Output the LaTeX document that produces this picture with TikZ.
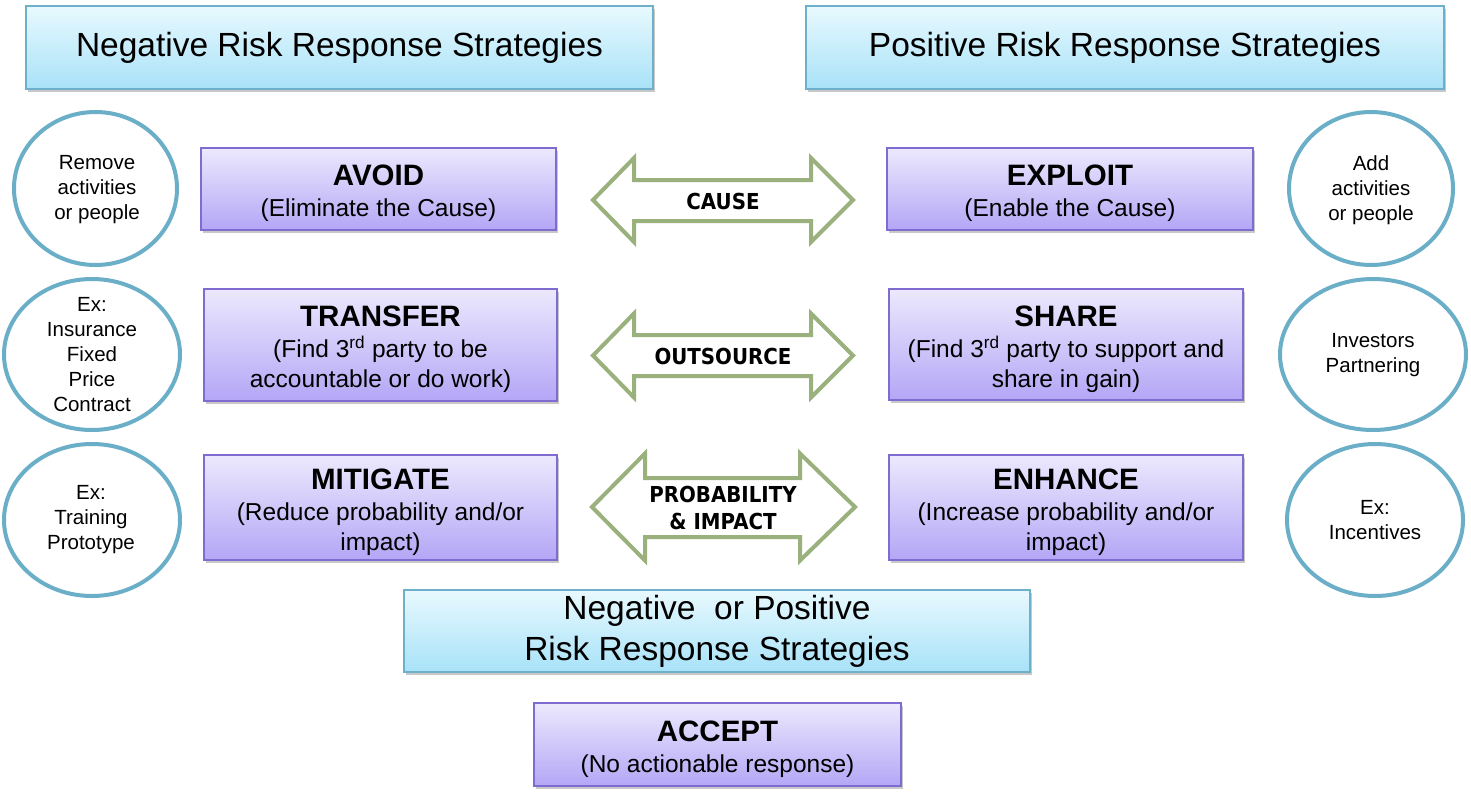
\documentclass[tikz,border=0pt]{standalone}
\usepackage{fontspec}
\setmainfont{Liberation Sans}
\newfontfamily\arrowfont[FakeStretch=0.9]{DejaVu Sans}
\usetikzlibrary{shapes.geometric,shadows}
\definecolor{purpB}{RGB}{128,108,208}
\definecolor{purpT}{RGB}{236,233,253}
\definecolor{purpBt}{RGB}{180,166,246}
\definecolor{cyanB}{RGB}{110,176,202}
\definecolor{cyanT}{RGB}{232,249,254}
\definecolor{cyanBt}{RGB}{168,226,248}
\definecolor{ellB}{RGB}{107,174,200}
\definecolor{arrG}{RGB}{155,177,125}
\newcommand\boxtitle{\fontsize{29.5}{33}\selectfont\bfseries\rule{0pt}{30pt}}
\begin{document}
\begin{tikzpicture}[x=1pt,y=-1pt,
  shad/.style={drop shadow={shadow xshift=1.5pt,shadow yshift=-3pt,opacity=0.3,fill=black!70}},
  hdr/.style={draw=cyanB,line width=2pt,top color=cyanT,bottom color=cyanBt,shad,
    inner sep=0pt,align=center,font=\fontsize{33.5}{41}\selectfont},
  pbox/.style={draw=purpB,line width=2pt,top color=purpT,bottom color=purpBt,shad,
    inner sep=0pt,align=center,font=\fontsize{24.5}{30}\selectfont},
  ell/.style={draw=ellB,line width=4pt,ellipse,inner sep=0pt},
  etext/.style={align=center,font=\fontsize{20.5}{25}\selectfont,inner sep=0pt},
  dbl/.style={draw=arrG,line width=4pt,fill=white,line join=miter},
  alabel/.style={align=center,font=\fontsize{22}{27}\selectfont\arrowfont\bfseries,inner sep=0pt}
]
\useasboundingbox (0,0) rectangle (1471,798);
\fill[white] (0,0) rectangle (1471,798);

% headers
\node[hdr,minimum width=627pt,minimum height=83pt] (hneg) at (339.5,47.5) {Negative Risk Response Strategies};
\node[hdr,minimum width=638pt,minimum height=83pt] (hpos) at (1125,47.5) {Positive Risk Response Strategies};
\node[hdr,minimum width=626pt,minimum height=82pt] (hboth) at (717,631) {Negative\ \ or Positive\\Risk Response Strategies};

% purple boxes
\node[pbox,minimum width=355pt,minimum height=82pt] (avoid) at (378.5,189) {{\boxtitle AVOID}\\[1pt](Eliminate the Cause)};
\node[pbox,minimum width=366pt,minimum height=82pt] (exploit) at (1070,189) {{\boxtitle EXPLOIT}\\[1pt](Enable the Cause)};
\node[pbox,minimum width=353pt,minimum height=112pt] (transfer) at (380.5,345) {{\boxtitle TRANSFER}\\[1pt](Find 3\textsuperscript{rd} party to be\\accountable or do work)};
\node[pbox,minimum width=354pt,minimum height=111pt] (share) at (1066,344.5) {{\boxtitle SHARE}\\[1pt](Find 3\textsuperscript{rd} party to support and\\share in gain)};
\node[pbox,minimum width=353pt,minimum height=105pt] (mitigate) at (380.5,507.5) {{\boxtitle MITIGATE}\\[1pt](Reduce probability and/or\\impact)};
\node[pbox,minimum width=354pt,minimum height=105pt] (enhance) at (1066,507.5) {{\boxtitle ENHANCE}\\[1pt](Increase probability and/or\\impact)};
\node[pbox,minimum width=367pt,minimum height=83pt] (accept) at (717.5,744.5) {{\boxtitle ACCEPT}\\[1pt](No actionable response)};

% ellipses
\node[ell,minimum width=163pt,minimum height=153pt] (e1) at (95.5,188.5) {};
\node[etext] (t1) at (97,190) {Remove\\activities\\or people};
\node[ell,minimum width=176pt,minimum height=151pt] (e2) at (92,354.5) {};
\node[etext] (t2) at (92,355) {Ex:\\Insurance\\Fixed\\Price\\Contract};
\node[ell,minimum width=176pt,minimum height=152pt] (e3) at (92,520) {};
\node[etext] (t3) at (91,520) {Ex:\\Training\\Prototype};
\node[ell,minimum width=164pt,minimum height=153pt] (e4) at (1371,188.5) {};
\node[etext] (t4) at (1371,190) {Add\\activities\\or people};
\node[ell,minimum width=186pt,minimum height=151pt] (e5) at (1373,354.5) {};
\node[etext] (t5) at (1373,355) {Investors\\Partnering};
\node[ell,minimum width=176pt,minimum height=152pt] (e6) at (1375,520) {};
\node[etext] (t6) at (1375,520.5) {Ex:\\Incentives};

% double arrows
\draw[dbl] (593,200) -- (634,158) -- (634,180) -- (811,180) -- (811,158) -- (853,200)
  -- (811,242) -- (811,221) -- (634,221) -- (634,242) -- cycle;
\node[alabel] (a1) at (723,201) {CAUSE};
\draw[dbl] (593,355.5) -- (634,313.5) -- (634,335) -- (811,335) -- (811,313.5) -- (853,355.5)
  -- (811,397.5) -- (811,376) -- (634,376) -- (634,397.5) -- cycle;
\node[alabel] (a2) at (723,356) {OUTSOURCE};
\draw[dbl] (592,507) -- (645,453.5) -- (645,478) -- (800,478) -- (800,453.5) -- (855,507)
  -- (800,560.5) -- (800,537) -- (645,537) -- (645,560.5) -- cycle;
\node[alabel] (a3) at (723,507.5) {PROBABILITY\\\& IMPACT};
\end{tikzpicture}
\end{document}
